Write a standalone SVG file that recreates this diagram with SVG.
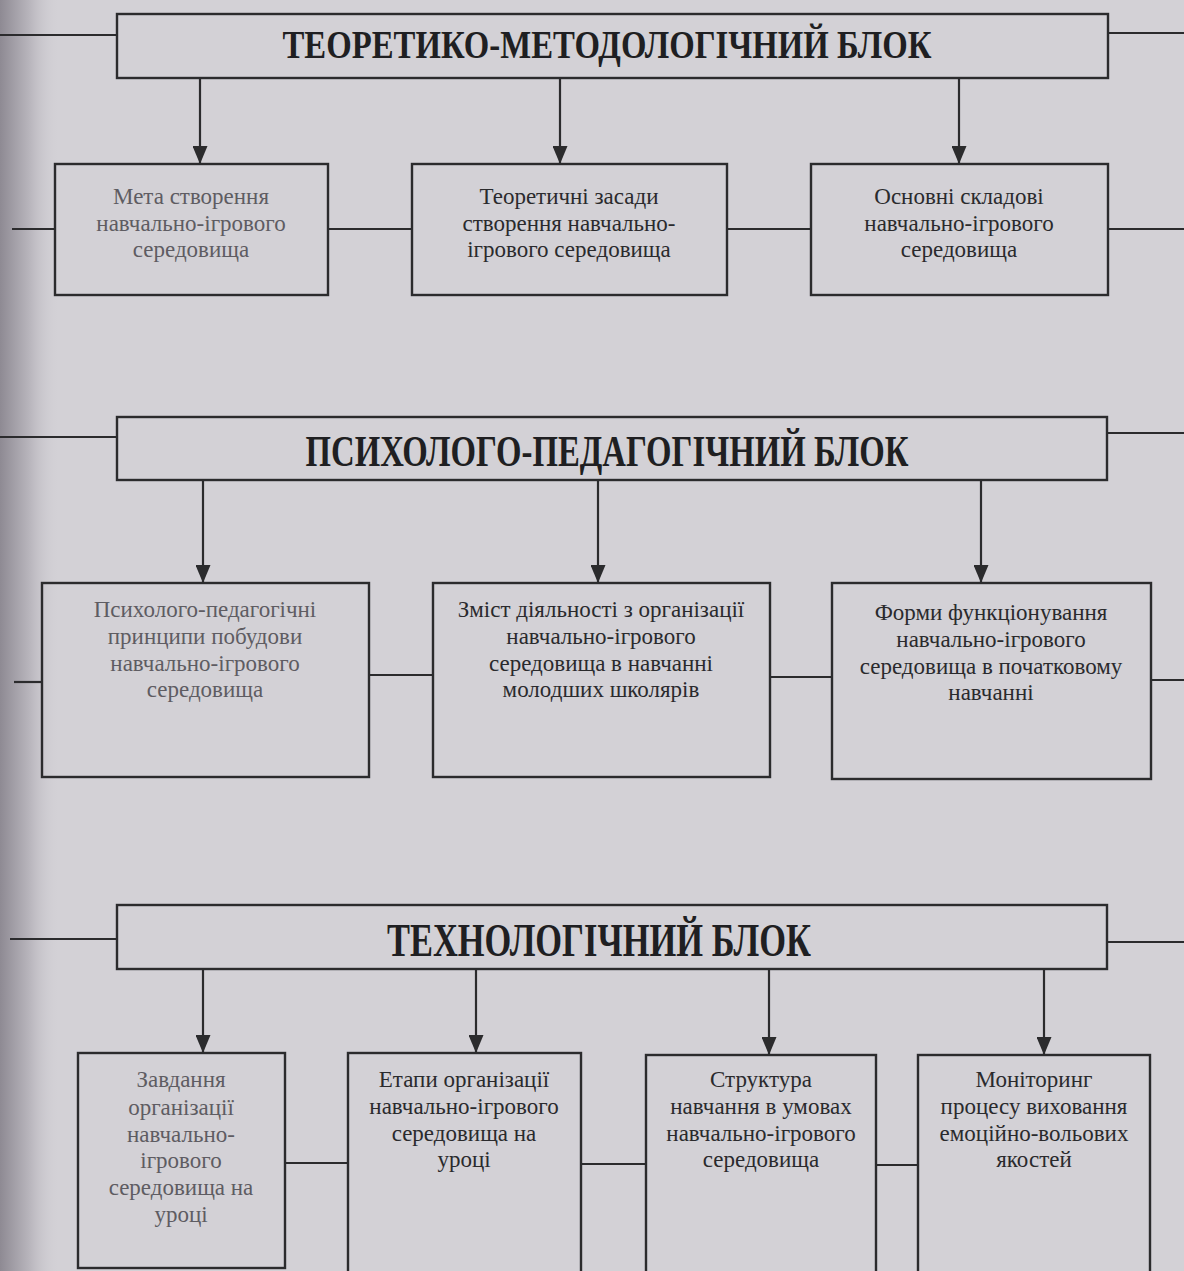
<svg xmlns="http://www.w3.org/2000/svg" width="1184" height="1271" viewBox="0 0 1184 1271">
<defs>
<linearGradient id="gut" x1="0" y1="0" x2="1" y2="0">
<stop offset="0" stop-color="#8e8a93"/>
<stop offset="0.5" stop-color="#b9b6bd"/>
<stop offset="1" stop-color="#d3d1d6" stop-opacity="0"/>
</linearGradient>
<marker id="ah" viewBox="0 0 18 15" refX="18" refY="7.5" markerWidth="18" markerHeight="15" markerUnits="userSpaceOnUse" orient="auto">
<path d="M0,0 L18,7.5 L0,15 Z" fill="#2b2b2d"/>
</marker>
<style>
.bx{fill:none;stroke:#2b2b2d;stroke-width:2.4}
.ln{fill:none;stroke:#2b2b2d;stroke-width:2.2}
.hd{font-family:"Liberation Serif","Times New Roman",serif;font-weight:bold;fill:#1f1f22;text-anchor:middle}
.tx{font-family:"Liberation Serif","Times New Roman",serif;font-size:23px;fill:#2a2a2d;text-anchor:middle}
.fd{fill:#5e5c62}
</style>
</defs>
<rect x="0" y="0" width="1184" height="1271" fill="#d3d1d6"/>
<rect x="0" y="0" width="60" height="1271" fill="url(#gut)"/>

<g id="connectors">
<line class="ln" x1="0" y1="35" x2="117" y2="35"/>
<line class="ln" x1="1108" y1="33" x2="1184" y2="33"/>
<line class="ln" x1="200" y1="79" x2="200" y2="164" marker-end="url(#ah)"/>
<line class="ln" x1="560" y1="79" x2="560" y2="164" marker-end="url(#ah)"/>
<line class="ln" x1="959" y1="79" x2="959" y2="164" marker-end="url(#ah)"/>
<line class="ln" x1="12" y1="229" x2="55" y2="229"/>
<line class="ln" x1="328" y1="229" x2="412" y2="229"/>
<line class="ln" x1="727" y1="229" x2="811" y2="229"/>
<line class="ln" x1="1108" y1="229" x2="1184" y2="229"/>
<line class="ln" x1="0" y1="437" x2="117" y2="437"/>
<line class="ln" x1="1107" y1="433" x2="1184" y2="433"/>
<line class="ln" x1="203" y1="480" x2="203" y2="583" marker-end="url(#ah)"/>
<line class="ln" x1="598" y1="480" x2="598" y2="583" marker-end="url(#ah)"/>
<line class="ln" x1="981" y1="480" x2="981" y2="583" marker-end="url(#ah)"/>
<line class="ln" x1="14" y1="682" x2="42" y2="682"/>
<line class="ln" x1="369" y1="675" x2="433" y2="675"/>
<line class="ln" x1="770" y1="677" x2="832" y2="677"/>
<line class="ln" x1="1151" y1="680" x2="1184" y2="680"/>
<line class="ln" x1="10" y1="939" x2="117" y2="939"/>
<line class="ln" x1="1107" y1="942" x2="1184" y2="942"/>
<line class="ln" x1="203" y1="969" x2="203" y2="1053" marker-end="url(#ah)"/>
<line class="ln" x1="476" y1="969" x2="476" y2="1053" marker-end="url(#ah)"/>
<line class="ln" x1="769" y1="969" x2="769" y2="1055" marker-end="url(#ah)"/>
<line class="ln" x1="1044" y1="969" x2="1044" y2="1055" marker-end="url(#ah)"/>
<line class="ln" x1="285" y1="1163" x2="348" y2="1163"/>
<line class="ln" x1="581" y1="1164" x2="646" y2="1164"/>
<line class="ln" x1="876" y1="1165" x2="918" y2="1165"/>
</g>

<g id="header-1">
<rect class="bx" x="117" y="14" width="991" height="64"/>
<text class="hd" x="607" y="58" font-size="39" textLength="649" lengthAdjust="spacingAndGlyphs">ТЕОРЕТИКО-МЕТОДОЛОГІЧНИЙ БЛОК</text>
</g>
<g id="n1-1">
<rect class="bx" x="55" y="164" width="273" height="131"/>
<text class="tx fd" x="191" y="204">Мета створення</text>
<text class="tx fd" x="191" y="231">навчально-ігрового</text>
<text class="tx fd" x="191" y="257">середовища</text>
</g>
<g id="n1-2">
<rect class="bx" x="412" y="164" width="315" height="131"/>
<text class="tx" x="569" y="204">Теоретичні засади</text>
<text class="tx" x="569" y="231">створення навчально-</text>
<text class="tx" x="569" y="257">ігрового середовища</text>
</g>
<g id="n1-3">
<rect class="bx" x="811" y="164" width="297" height="131"/>
<text class="tx" x="959" y="204">Основні складові</text>
<text class="tx" x="959" y="231">навчально-ігрового</text>
<text class="tx" x="959" y="257">середовища</text>
</g>

<g id="header-2">
<rect class="bx" x="117" y="417" width="990" height="63"/>
<text class="hd" x="607" y="466" font-size="45" textLength="603" lengthAdjust="spacingAndGlyphs">ПСИХОЛОГО-ПЕДАГОГІЧНИЙ БЛОК</text>
</g>
<g id="n2-1">
<rect class="bx" x="42" y="583" width="327" height="194"/>
<text class="tx fd" x="205" y="617">Психолого-педагогічні</text>
<text class="tx fd" x="205" y="644">принципи побудови</text>
<text class="tx fd" x="205" y="671">навчально-ігрового</text>
<text class="tx fd" x="205" y="697">середовища</text>
</g>
<g id="n2-2">
<rect class="bx" x="433" y="583" width="337" height="194"/>
<text class="tx" x="601" y="617">Зміст діяльності з організації</text>
<text class="tx" x="601" y="644">навчально-ігрового</text>
<text class="tx" x="601" y="671">середовища в навчанні</text>
<text class="tx" x="601" y="697">молодших школярів</text>
</g>
<g id="n2-3">
<rect class="bx" x="832" y="583" width="319" height="196"/>
<text class="tx" x="991" y="620">Форми функціонування</text>
<text class="tx" x="991" y="647">навчально-ігрового</text>
<text class="tx" x="991" y="674">середовища в початковому</text>
<text class="tx" x="991" y="700">навчанні</text>
</g>

<g id="header-3">
<rect class="bx" x="117" y="905" width="990" height="64"/>
<text class="hd" x="599" y="956" font-size="47" textLength="424" lengthAdjust="spacingAndGlyphs">ТЕХНОЛОГІЧНИЙ БЛОК</text>
</g>
<g id="n3-1">
<rect class="bx" x="78" y="1053" width="207" height="215"/>
<text class="tx fd" x="181" y="1087">Завдання</text>
<text class="tx fd" x="181" y="1115">організації</text>
<text class="tx fd" x="181" y="1142">навчально-</text>
<text class="tx fd" x="181" y="1168">ігрового</text>
<text class="tx fd" x="181" y="1195">середовища на</text>
<text class="tx fd" x="181" y="1222">уроці</text>
</g>
<g id="n3-2">
<rect class="bx" x="348" y="1053" width="233" height="230"/>
<text class="tx" x="464" y="1087">Етапи організації</text>
<text class="tx" x="464" y="1114">навчально-ігрового</text>
<text class="tx" x="464" y="1141">середовища на</text>
<text class="tx" x="464" y="1167">уроці</text>
</g>
<g id="n3-3">
<rect class="bx" x="646" y="1055" width="230" height="230"/>
<text class="tx" x="761" y="1087">Структура</text>
<text class="tx" x="761" y="1114">навчання в умовах</text>
<text class="tx" x="761" y="1141">навчально-ігрового</text>
<text class="tx" x="761" y="1167">середовища</text>
</g>
<g id="n3-4">
<rect class="bx" x="918" y="1055" width="232" height="230"/>
<text class="tx" x="1034" y="1087">Моніторинг</text>
<text class="tx" x="1034" y="1114">процесу виховання</text>
<text class="tx" x="1034" y="1141">емоційно-вольових</text>
<text class="tx" x="1034" y="1167">якостей</text>
</g>
</svg>
